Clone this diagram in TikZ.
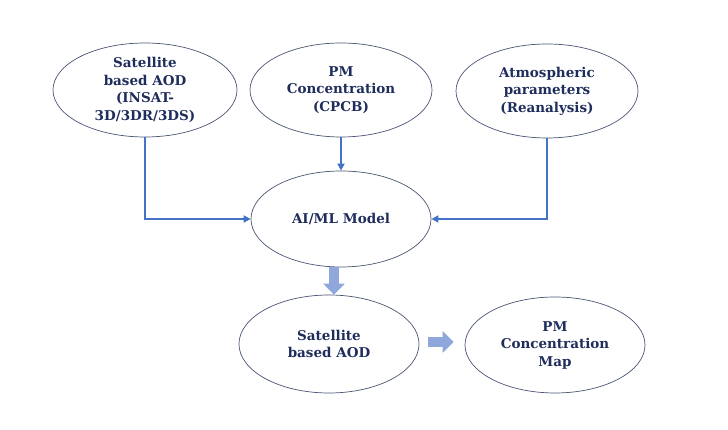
\documentclass[tikz,border=0pt]{standalone}
\usepackage{fontspec}
\setmainfont{DejaVu Serif}
\usetikzlibrary{shapes.geometric,arrows.meta}
\definecolor{txt}{HTML}{1F2D5C}
\definecolor{edge}{HTML}{4A5573}
\definecolor{conn}{HTML}{4472C4}
\definecolor{block}{HTML}{8FA7DB}
\begin{document}
\begin{tikzpicture}[x=1pt,y=1pt,
  oval/.style={ellipse,draw=edge,line width=0.7pt,fill=white,inner sep=0pt,
    align=center,text=txt,
    font=\fontsize{13.5}{17.5}\selectfont\bfseries},
  connline/.style={draw=conn,line width=1.8pt,-{Triangle[length=7pt,width=7pt]}},
  blockarrow/.style={draw=block,line width=9.5pt,-{Triangle[length=11pt,width=21pt]}}
]
\useasboundingbox (0,0) rectangle (728,430);
\node[oval,inner ysep=-3pt,minimum width=184pt,minimum height=94pt] (sat) at (145,340) {Satellite\\based AOD\\(INSAT-\\3D/3DR/3DS)};
\node[oval,minimum width=182pt,minimum height=94pt] (pm) at (341,340) {PM\\Concentration\\(CPCB)};
\node[oval,minimum width=182pt,minimum height=94pt] (atm) at (547,339) {Atmospheric\\parameters\\(Reanalysis)};
\node[oval,minimum width=180pt,minimum height=96pt] (ai) at (341,211) {AI/ML Model};
\node[oval,minimum width=180pt,minimum height=98pt] (sat2) at (329,86) {Satellite\\based AOD};
\node[oval,minimum width=180pt,minimum height=96pt] (map) at (555,85) {PM\\Concentration\\Map};
\draw[connline] (sat.south) |- (ai.west);
\draw[connline] (pm.south) -- (ai.north);
\draw[connline] (atm.south) |- (ai.east);
\draw[blockarrow] (ai.south -| 334,0) -- (sat2.north -| 334,0);
\draw[blockarrow,shorten <=9pt,shorten >=11pt] (sat2.east |- 0,88) -- (map.west |- 0,88);
\end{tikzpicture}
\end{document}
